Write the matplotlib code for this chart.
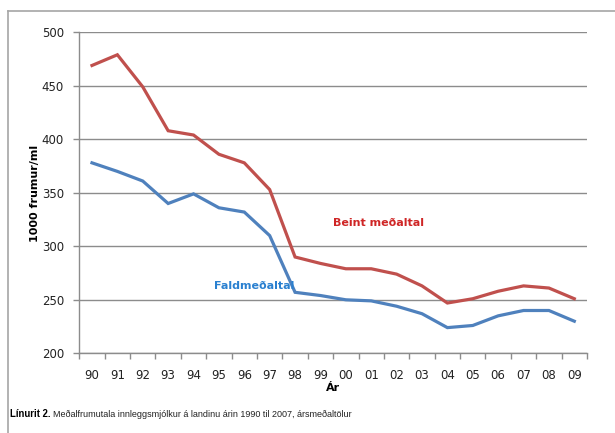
import matplotlib.pyplot as plt
from matplotlib.lines import Line2D

# year labels along the category axis
years = ["90", "91", "92", "93", "94", "95", "96", "97", "98", "99",
         "00", "01", "02", "03", "04", "05", "06", "07", "08", "09"]

# 1000 cells/ml
beint = [469, 479, 449, 408, 404, 386, 378, 353, 290, 284,
         279, 279, 274, 263, 247, 251, 258, 263, 261, 251]
fald = [378, 370, 361, 340, 349, 336, 332, 310, 257, 254,
        250, 249, 244, 237, 224, 226, 235, 240, 240, 230]

y_ticks = [200, 250, 300, 350, 400, 450, 500]

RED = "#C0504D"
BLUE = "#4F81BD"
GRID = "#8C8C8C"

plt.rcParams['font.family'] = ['DejaVu Sans']

fig = plt.figure(figsize=(6.15, 4.33), dpi=100)
ax = fig.add_axes([79.3 / 615, 1 - 353.3 / 433, (587 - 79.3) / 615, (353.3 - 32.3) / 433])

x = list(range(len(years)))
ax.plot(x, beint, color=RED, lw=2.3, solid_joinstyle='miter', zorder=3)
ax.plot(x, fald, color=BLUE, lw=2.3, solid_joinstyle='miter', zorder=3)

ax.set_xlim(-0.5, len(years) - 0.5)
ax.set_ylim(200, 500)
ax.set_yticks(y_ticks)
ax.set_yticklabels([str(v) for v in y_ticks], fontsize=8.5, color="#222222")
ax.yaxis.grid(True, color=GRID, lw=1)
ax.set_axisbelow(True)

# category labels centred, tick marks between categories
ax.set_xticks(x)
ax.set_xticklabels(years, fontsize=8.5, color="#222222")
ax.tick_params(axis='x', length=0, pad=11)
ax.set_xticks([i - 0.5 for i in range(len(years) + 1)], minor=True)
ax.tick_params(axis='x', which='minor', length=4, color=GRID, width=1)
ax.tick_params(axis='y', length=4, color=GRID, width=1, pad=7)

for side in ['top', 'right']:
    ax.spines[side].set_visible(False)
for side in ['left', 'bottom']:
    ax.spines[side].set_color(GRID)
    ax.spines[side].set_linewidth(1)

ax.set_xlabel("Ár", fontsize=8, fontweight='bold', labelpad=1)
fig.text(35 / 615, 1 - 193 / 433, "1000 frumur/ml", rotation=90, fontsize=8,
         fontweight='bold', ha='center', va='center')

ax.text(11.3, 322, "Beint meðaltal", color="#CF2626", fontsize=8, fontweight='bold',
        ha='center', va='center')
ax.text(6.4, 263, "Faldmeðaltal", color="#2A80D0", fontsize=8, fontweight='bold',
        ha='center', va='center')

# caption under the chart
cap = fig.text(10 / 615, 1 - 414 / 433, "Línurit 2.", fontsize=6.9, fontweight='bold',
               family=['Liberation Sans'], va='center')
ax.annotate("Meðalfrumutala innleggsmjólkur á landinu árin 1990 til 2007, ársmeðaltölur",
            xy=(1, 0.5), xycoords=cap, xytext=(1.5, 0), textcoords='offset points',
            fontsize=6.5, family=['Liberation Sans'], va='center', color="#222222",
            annotation_clip=False)

# outer frame (left and top edges visible)
fig.add_artist(Line2D([8 / 615, 8 / 615], [0, 1 - 11 / 433], color="#A6A6A6", lw=1.2,
                      transform=fig.transFigure))
fig.add_artist(Line2D([8 / 615, 1], [1 - 11 / 433, 1 - 11 / 433], color="#A6A6A6", lw=1.2,
                      transform=fig.transFigure))

fig.savefig("out.png", dpi=100)
